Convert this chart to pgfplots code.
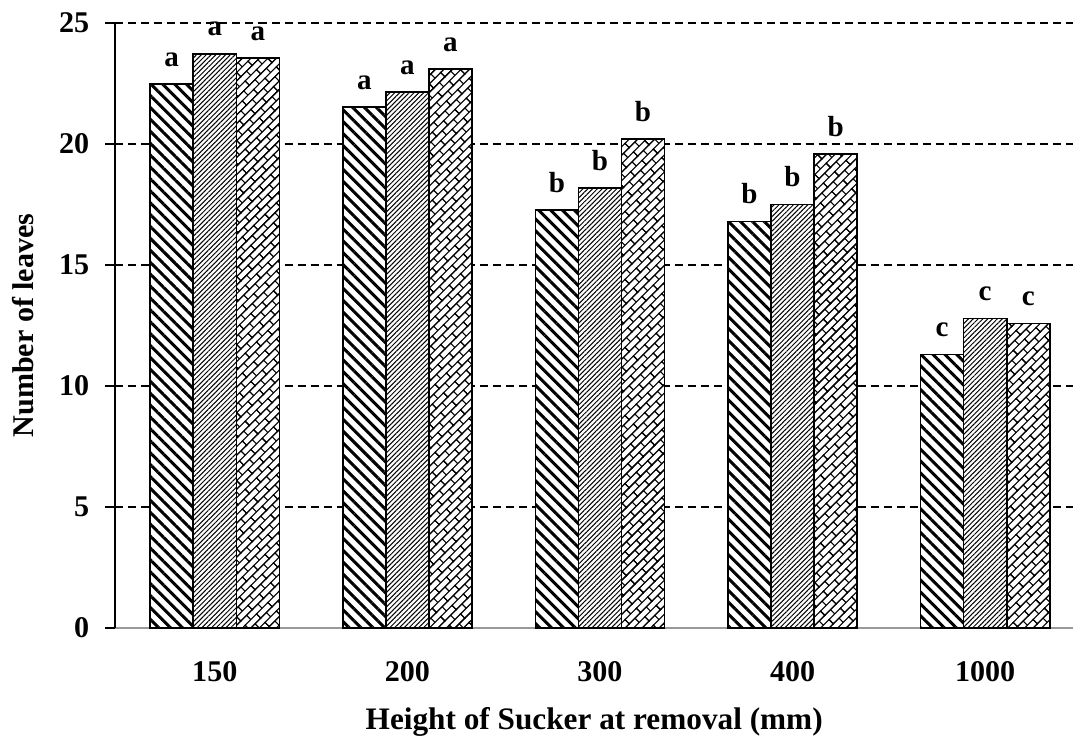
\documentclass[border=0pt]{standalone}
\usepackage{fontspec}
\setmainfont{Liberation Serif}
\usepackage{pgfplots}
\usepackage{pgfplotstable}
\pgfplotsset{compat=1.18}
\usetikzlibrary{patterns.meta}

\pgfdeclarepattern{
  name=diagbrick, type=uncolored,
  bottom left={\pgfpoint{-.5pt}{-.5pt}},
  top right={\pgfpoint{8.5pt}{6.5pt}},
  tile size={\pgfpoint{8pt}{6pt}},
  tile transformation={\pgftransformrotate{45}},
  code={
    \pgfsetlinewidth{0.55pt}
    \pgfpathmoveto{\pgfpoint{-.5pt}{0pt}}\pgfpathlineto{\pgfpoint{8.5pt}{0pt}}
    \pgfpathmoveto{\pgfpoint{-.5pt}{3pt}}\pgfpathlineto{\pgfpoint{8.5pt}{3pt}}
    \pgfpathmoveto{\pgfpoint{-.5pt}{6pt}}\pgfpathlineto{\pgfpoint{8.5pt}{6pt}}
    \pgfpathmoveto{\pgfpoint{0pt}{0pt}}\pgfpathlineto{\pgfpoint{0pt}{3pt}}
    \pgfpathmoveto{\pgfpoint{8pt}{0pt}}\pgfpathlineto{\pgfpoint{8pt}{3pt}}
    \pgfpathmoveto{\pgfpoint{4pt}{3pt}}\pgfpathlineto{\pgfpoint{4pt}{6pt}}
    \pgfusepath{stroke}
  }
}

\pgfplotstableread{
x y l
0 22.47 a
1 21.52 a
2 17.26 b
3 16.80 b
4 11.30 c
}\serA
\pgfplotstableread{
x y l
0 23.72 a
1 22.14 a
2 18.17 b
3 17.50 b
4 12.79 c
}\serB
\pgfplotstableread{
x y l
0 23.55 a
1 23.10 a
2 20.20 b
3 19.58 b
4 12.58 c
}\serC

\begin{document}
\begin{tikzpicture}
\begin{axis}[
  width=478pt, height=302pt, scale only axis,
  xmin=-0.517, xmax=4.457, ymin=0, ymax=25,
  ybar=0pt, bar width=21.5pt,
  axis x line*=bottom, axis y line*=left,
  x axis line style={draw=gray!80, line width=0.8pt, -},
  y axis line style={draw=black, line width=1pt, -},
  xtick={0,...,4}, xticklabels={150,200,300,400,1000},
  x tick style={draw=none},
  ytick={5,10,...,25},
  extra y ticks={0}, extra y tick style={grid=none},
  ymajorgrids,
  grid style={black, dashed, line width=0.75pt, dash pattern=on 4pt off 2.5pt},
  y tick style={black, line width=1pt},
  tick align=outside, major tick length=5pt,
  /pgf/number format/assume math mode=true,
  xticklabel style={font=\fontsize{15}{17}\selectfont\bfseries, yshift=-8pt},
  yticklabel style={font=\fontsize{15}{17}\selectfont\bfseries, xshift=-4.5pt},
  xlabel={Height of Sucker at removal (mm)},
  ylabel={Number of leaves},
  xlabel style={font=\fontsize{15.6}{17}\selectfont\bfseries, yshift=-6pt},
  ylabel style={font=\fontsize{15}{17}\selectfont\bfseries, yshift=-4.5pt},
  nodes near coords, point meta=explicit symbolic,
  nodes near coords style={font=\fontsize{14.5}{17}\selectfont\bfseries, anchor=south, yshift=5pt},
  clip=false,
]
\addplot[draw=black, line width=0.8pt, fill=white,
  postaction={pattern={Lines[angle=-45,distance=4.2pt,line width=1.5pt]}},
  bar shift=-21.5pt] table[x=x,y=y,meta=l] {\serA};
\addplot[draw=black, line width=0.8pt, fill=white,
  postaction={pattern={Lines[angle=45,distance=1.7pt,line width=0.5pt]}},
  bar shift=0pt] table[x=x,y=y,meta=l] {\serB};
\addplot[draw=black, line width=0.8pt, fill=white,
  postaction={pattern=diagbrick},
  bar shift=21.5pt] table[x=x,y=y,meta=l] {\serC};
\end{axis}
\path (current bounding box.north) ++(0,3pt);
\path (current bounding box.west) ++(-3pt,0);
\end{tikzpicture}
\end{document}
